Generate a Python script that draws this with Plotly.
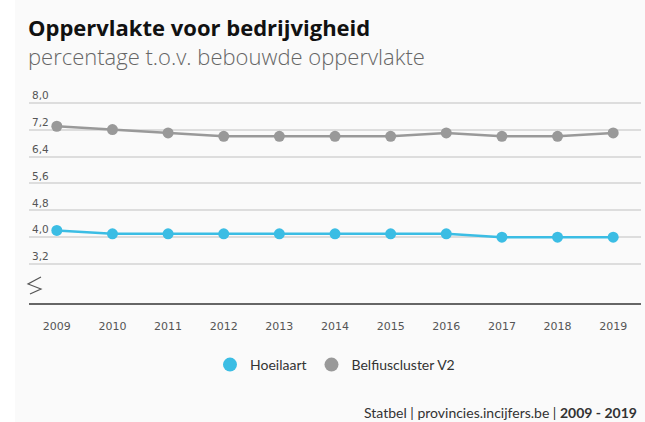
import plotly.graph_objects as go

years = ["2009", "2010", "2011", "2012", "2013", "2014", "2015", "2016", "2017", "2018", "2019"]
hoeilaart = [4.2, 4.1, 4.1, 4.1, 4.1, 4.1, 4.1, 4.1, 4.0, 4.0, 4.0]
belfius = [7.3, 7.2, 7.1, 7.0, 7.0, 7.0, 7.0, 7.1, 7.0, 7.0, 7.1]
y_ticks = [3.2, 4.0, 4.8, 5.6, 6.4, 7.2, 8.0]
series = [("Hoeilaart", hoeilaart, "#3bbde4"), ("Belfiuscluster V2", belfius, "#999999")]

W, H = 645, 422
L, R, T, B = 29, 4, 85, 119
PW, PH = W - L - R, H - T - B

def px(x):
    return (x - L) / PW

def py(y):
    return (H - B - y) / PH

fig = go.Figure()
for name, vals, col in series:
    fig.add_trace(go.Scatter(
        x=years, y=vals, name=name, mode="lines+markers", legendgroup=name, showlegend=False,
        line=dict(color=col, width=2.5), marker=dict(size=11, color=col),
    ))
for name, vals, col in series:
    fig.add_trace(go.Scatter(
        x=[None], y=[None], name=name, mode="markers", legendgroup=name, showlegend=True,
        marker=dict(size=14, color=col),
    ))

zig = [(41, 277), (28, 284), (41, 289), (30, 294)]
path = "M " + " L ".join(f"{px(a):.4f},{py(b):.4f}" for a, b in zig)

fig.update_layout(
    width=W, height=H,
    margin=dict(l=L, r=R, t=T, b=B),
    paper_bgcolor="white",
    plot_bgcolor="rgba(0,0,0,0)",
    separators=",.",
    legend=dict(orientation="h", x=0.5, xanchor="center", y=py(365), yanchor="middle",
                font=dict(family="Lato", size=14, color="#333"), itemsizing="trace",
                itemwidth=30, bgcolor="rgba(0,0,0,0)"),
    xaxis=dict(type="category", range=[-0.5, 10.5], showgrid=False, showline=True,
               linecolor="#666", linewidth=2, ticks="", ticklabelstandoff=12,
               tickfont=dict(family="DejaVu Sans", size=11, color="#555"), fixedrange=True),
    yaxis=dict(range=[2.04, 2.04 + PH / 33.6], tickvals=y_ticks, tickformat=".1f",
               ticklabelposition="inside top", showgrid=True, gridcolor="#dddddd",
               gridwidth=1.5, zeroline=False, showline=False,
               tickfont=dict(family="DejaVu Sans", size=10.5, color="#555")),
    shapes=[
        dict(type="rect", xref="paper", yref="paper", x0=px(15), x1=px(W), y0=py(H), y1=py(0),
             fillcolor="#fafafa", line=dict(width=0), layer="below"),
        dict(type="path", xref="paper", yref="paper", path=path,
             line=dict(color="#555", width=1.2)),
    ],
    annotations=[
        dict(text="<b>Oppervlakte voor bedrijvigheid</b>", xref="paper", yref="paper",
             x=px(26), y=py(27), xanchor="left", yanchor="middle", showarrow=False,
             font=dict(family="Open Sans", size=22, color="#111")),
        dict(text="percentage t.o.v. bebouwde oppervlakte", xref="paper", yref="paper",
             x=px(26), y=py(56), xanchor="left", yanchor="middle", showarrow=False,
             font=dict(family="Open Sans", size=22, color="#666", weight=300)),
        dict(text="Statbel | provincies.incijfers.be | <b>2009 - 2019</b>", xref="paper", yref="paper",
             x=px(639), y=py(412), xanchor="right", yanchor="middle", showarrow=False,
             font=dict(family="Lato", size=14, color="#333")),
    ],
)

fig.write_html("out.html", config={"displayModeBar": False},
               post_script="document.body.style.margin='0';")
